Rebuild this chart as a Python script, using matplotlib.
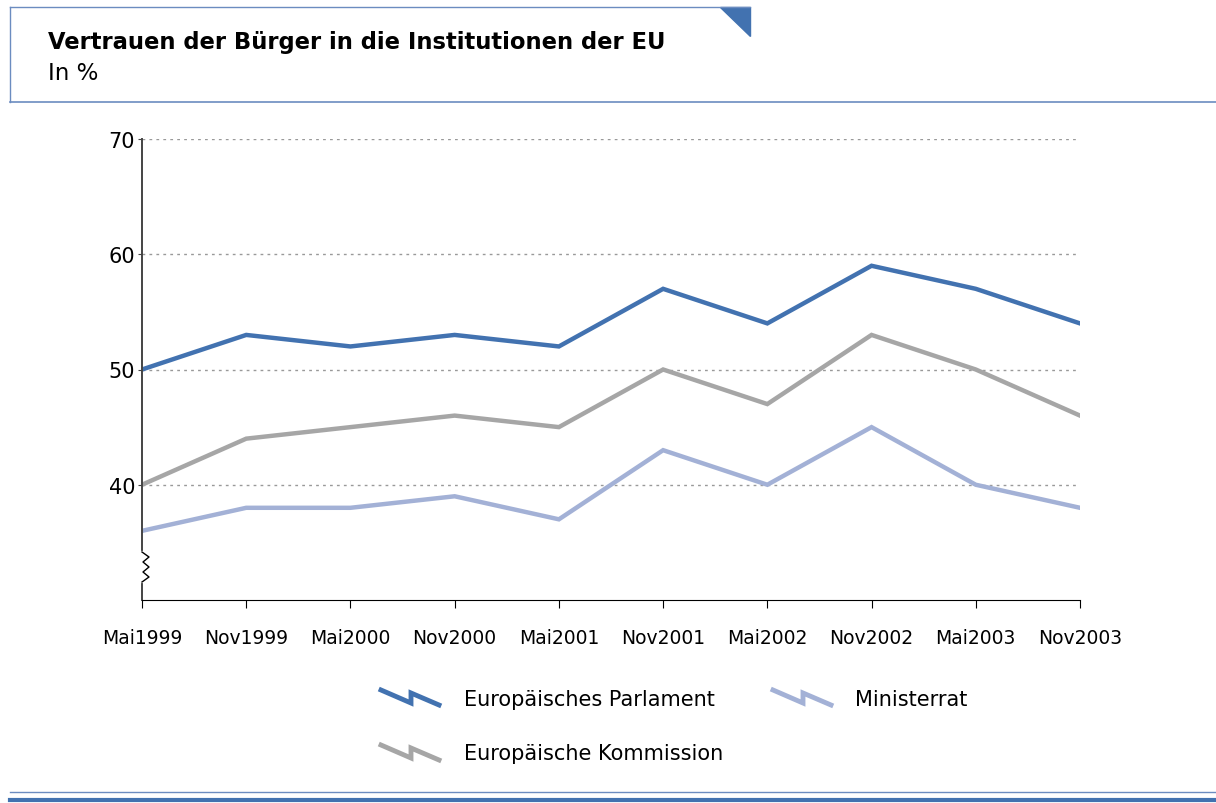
import numpy as np
import matplotlib.pyplot as plt
from matplotlib.lines import Line2D
from matplotlib.patches import Polygon

# data
periods = ['Mai1999', 'Nov1999', 'Mai2000', 'Nov2000', 'Mai2001',
           'Nov2001', 'Mai2002', 'Nov2002', 'Mai2003', 'Nov2003']
parlament = [50, 53, 52, 53, 52, 57, 54, 59, 57, 54]
kommission = [40, 44, 45, 46, 45, 50, 47, 53, 50, 46]
ministerrat = [36, 38, 38, 39, 37, 43, 40, 45, 40, 38]
y_ticks = [40, 50, 60, 70]

c_ep = '#4272b0'
c_ko = '#a6a6a6'
c_mi = '#a3b1d6'
c_frame = '#6b8cc0'

plt.rcParams['font.family'] = ['DejaVu Sans']

W, H = 1216, 804
fig = plt.figure(figsize=(W / 100, H / 100), dpi=100)

def fx(px):
    return px / W

def fy(py):
    return 1 - py / H

# header frame
fig.add_artist(Line2D([fx(10), fx(750)], [fy(8), fy(8)], color=c_frame, lw=1))
fig.add_artist(Line2D([fx(10), fx(10)], [fy(8), fy(103)], color=c_frame, lw=1))
fig.add_artist(Line2D([fx(10), fx(1216)], [fy(103), fy(103)], color=c_frame, lw=1.2))
fig.add_artist(Polygon([[fx(720), fy(8)], [fx(750), fy(8)], [fx(750), fy(37)]],
                       closed=True, color=c_ep, transform=fig.transFigure))
fig.text(fx(48), fy(43), 'Vertrauen der Bürger in die Institutionen der EU',
         fontsize=16.3, fontweight='bold', va='center', ha='left')
fig.text(fx(48), fy(74), 'In %', fontsize=16.5, va='center', ha='left')

# bottom lines
fig.add_artist(Line2D([fx(10), fx(1216)], [fy(793), fy(793)], color=c_frame, lw=1))
fig.add_artist(Line2D([fx(10), fx(1216)], [fy(801), fy(801)], color=c_ep, lw=3))

# chart
ax = fig.add_axes([fx(142), fy(601), fx(1080 - 142), fy(140) - fy(601)])
x = np.arange(len(periods))
ax.plot(x, parlament, color=c_ep, lw=3.2, solid_joinstyle='miter')
ax.plot(x, kommission, color=c_ko, lw=3.2, solid_joinstyle='miter')
ax.plot(x, ministerrat, color=c_mi, lw=3.2, solid_joinstyle='miter')

ax.set_xlim(0, len(periods) - 1)
ax.set_ylim(30, 70)
ax.set_yticks(y_ticks)
ax.set_yticklabels([str(v) for v in y_ticks], fontsize=15)
ax.set_xticks(x)
ax.set_xticklabels(periods, fontsize=13.5)
ax.tick_params(axis='x', direction='out', length=6, pad=14, color='black')
ax.tick_params(axis='y', direction='out', length=3, pad=2, color='#444444')
for v in y_ticks:
    ax.axhline(v, color='#999999', lw=1, ls=(0, (2, 3)), zorder=0)

for s in ['top', 'right']:
    ax.spines[s].set_visible(False)
ax.spines['left'].set_color('#444444')
ax.spines['left'].set_linewidth(1.4)
ax.spines['bottom'].set_color('black')
ax.patch.set_alpha(0)

# axis break zigzag
zx = [0, 7, 1, 7, 1, 7, 0]
zy = [553, 558, 563, 568, 573, 578, 583]
fig.add_artist(Line2D([fx(142)] * 2, [fy(554), fy(582)], color='white', lw=3))
fig.add_artist(Line2D([fx(142 + v) for v in zx], [fy(v) for v in zy], color='black', lw=1))

# legend
def legend_icon(px, py, color):
    xs = [px, px + 30, px + 30, px + 58]
    ys = [py - 6, py + 7, py - 3, py + 9]
    fig.add_artist(Line2D([fx(v) for v in xs], [fy(v) for v in ys], color=color, lw=3.5,
                          solid_joinstyle='miter'))

legend_icon(381, 697, c_ep)
fig.text(fx(464), fy(700), 'Europäisches Parlament', fontsize=15, va='center')
legend_icon(773, 697, c_mi)
fig.text(fx(855), fy(700), 'Ministerrat', fontsize=15, va='center')
legend_icon(381, 752, c_ko)
fig.text(fx(464), fy(754), 'Europäische Kommission', fontsize=15, va='center')

fig.savefig('out.png', dpi=100)
